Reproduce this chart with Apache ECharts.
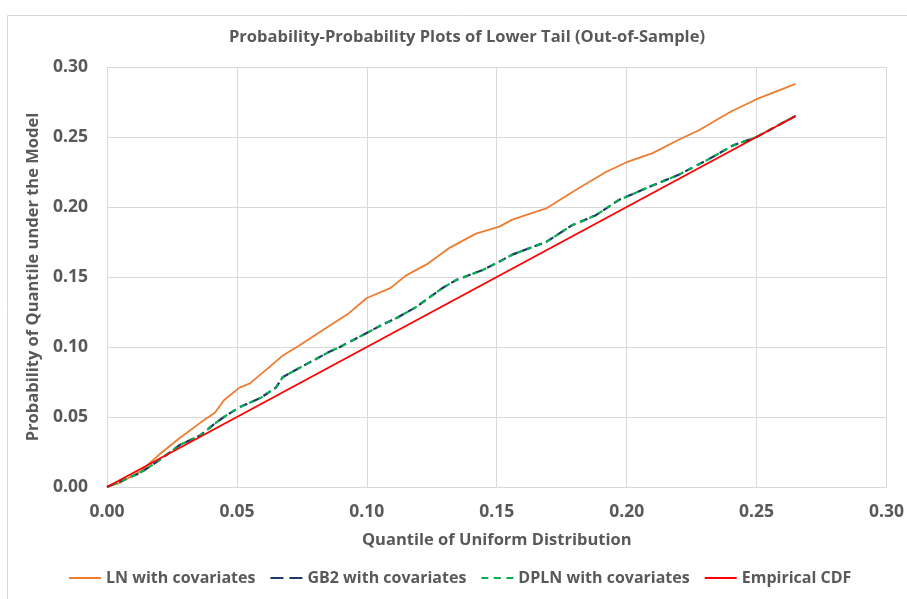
<!DOCTYPE html>
<html>
<head>
<meta charset="utf-8">
<script src="https://cdn.jsdelivr.net/npm/echarts@6/dist/echarts.min.js"></script>
<style>html,body{margin:0;padding:0;background:#fff}#c{width:907px;height:599px}</style>
</head>
<body>
<div id="c"></div>
<script>
const titleText = 'Probability-Probability Plots of Lower Tail (Out-of-Sample)';
const xAxisName = 'Quantile of Uniform Distribution';
const yAxisName = 'Probability of Quantile under the Model';
const seriesNames = ['LN with covariates', 'GB2 with covariates', 'DPLN with covariates', 'Empirical CDF'];

const lnX = [0, 0.005, 0.0127, 0.020, 0.028, 0.036, 0.0415, 0.045, 0.051, 0.055, 0.0627, 0.0677, 0.074, 0.0846, 0.093, 0.100, 0.109, 0.115, 0.123, 0.132, 0.142, 0.151, 0.156, 0.169, 0.182, 0.192, 0.200, 0.210, 0.220, 0.228, 0.240, 0.250, 0.265];
const lnY = [0, 0.003, 0.011, 0.023, 0.035, 0.046, 0.053, 0.062, 0.071, 0.074, 0.086, 0.094, 0.101, 0.114, 0.124, 0.135, 0.142, 0.151, 0.159, 0.171, 0.181, 0.186, 0.191, 0.199, 0.214, 0.225, 0.232, 0.2385, 0.248, 0.255, 0.268, 0.277, 0.288];

const gb2X = [0, 0.005, 0.0127, 0.020, 0.028, 0.036, 0.042, 0.045, 0.051, 0.059, 0.065, 0.0677, 0.075, 0.085, 0.0896, 0.0985, 0.106, 0.1115, 0.119, 0.129, 0.1346, 0.1446, 0.151, 0.156, 0.169, 0.179, 0.188, 0.197, 0.2077, 0.220, 0.231, 0.241, 0.250, 0.265];
const gb2Y = [0, 0.004, 0.010, 0.019, 0.030, 0.037, 0.046, 0.050, 0.057, 0.0635, 0.071, 0.0786, 0.086, 0.096, 0.100, 0.1086, 0.116, 0.1207, 0.1286, 0.142, 0.148, 0.155, 0.161, 0.166, 0.175, 0.187, 0.194, 0.205, 0.2136, 0.223, 0.2336, 0.244, 0.250, 0.265];

const dplnX = [0, 0.005, 0.0127, 0.020, 0.028, 0.036, 0.042, 0.045, 0.051, 0.059, 0.065, 0.0677, 0.075, 0.085, 0.0896, 0.0985, 0.106, 0.1115, 0.119, 0.129, 0.1346, 0.1446, 0.151, 0.156, 0.169, 0.179, 0.188, 0.197, 0.2077, 0.220, 0.231, 0.241, 0.250, 0.265];
const dplnY = [0, 0.004, 0.010, 0.019, 0.030, 0.037, 0.046, 0.050, 0.057, 0.0635, 0.071, 0.0786, 0.086, 0.096, 0.100, 0.1086, 0.116, 0.1207, 0.1286, 0.142, 0.148, 0.155, 0.161, 0.166, 0.175, 0.187, 0.194, 0.205, 0.2136, 0.223, 0.2336, 0.244, 0.250, 0.265];

const empX = [0, 0.265];
const empY = [0, 0.265];

const FONT = "'Open Sans', 'Noto Sans', sans-serif";
const TXT = '#595959';
const zip = (a, b) => a.map((v, i) => [v, b[i]]);

const legendIcons = [
  'path://M0,0H32V2H0Z',
  'path://M0,0H13V2H0Z M19,0H32V2H19Z',
  'path://M0,0H7V2H0Z M12.5,0H19.5V2H12.5Z M25,0H32V2H25Z',
  'path://M0,0H32V2H0Z'
];

const chart = echarts.init(document.getElementById('c'), null, {renderer: 'canvas'});
chart.setOption({
  animation: false,
  backgroundColor: '#fff',
  graphic: [{
    type: 'rect', left: 5, top: 13, shape: {width: 920, height: 620},
    style: {fill: 'none', stroke: '#d9d9d9', lineWidth: 1}, silent: true, z: -1
  }],
  title: {
    text: titleText, left: 224, top: 24,
    textStyle: {fontFamily: FONT, fontWeight: 'bold', fontSize: 16.5, color: TXT}
  },
  grid: {left: 107, right: 20, top: 67, bottom: 112, containLabel: false},
  xAxis: {
    type: 'value', min: 0, max: 0.30, interval: 0.05,
    name: xAxisName, nameLocation: 'middle', nameGap: 45,
    nameTextStyle: {fontFamily: FONT, fontWeight: 'bold', fontSize: 16.5, color: TXT},
    axisLine: {show: false}, axisTick: {show: false},
    axisLabel: {fontFamily: FONT, fontWeight: 'bold', fontSize: 17.5, color: TXT, margin: 16,
      formatter: v => v.toFixed(2)},
    splitLine: {show: true, lineStyle: {color: '#d9d9d9', width: 1}}
  },
  yAxis: {
    type: 'value', min: 0, max: 0.30, interval: 0.05,
    name: yAxisName, nameLocation: 'middle', nameGap: 56,
    nameTextStyle: {fontFamily: FONT, fontWeight: 'bold', fontSize: 16.5, color: TXT},
    axisLine: {show: false}, axisTick: {show: false},
    axisLabel: {fontFamily: FONT, fontWeight: 'bold', fontSize: 17.5, color: TXT, margin: 19,
      formatter: v => v.toFixed(2)},
    splitLine: {show: true, lineStyle: {color: '#d9d9d9', width: 1}}
  },
  legend: {
    show: true, bottom: 8, left: 64, itemWidth: 32, itemHeight: 2, itemGap: 15,
    textStyle: {fontFamily: FONT, fontWeight: 'bold', fontSize: 16, color: TXT},
    data: seriesNames.map((n, i) => ({name: n, icon: legendIcons[i]}))
  },
  series: [
    {name: seriesNames[0], type: 'line', data: zip(lnX, lnY), symbol: 'none',
      lineStyle: {color: '#ED7D31', width: 1.8}, itemStyle: {color: '#ED7D31'}, z: 2},
    {name: seriesNames[1], type: 'line', data: zip(gb2X, gb2Y), symbol: 'none',
      lineStyle: {color: '#203864', width: 2.2, type: [8, 5]}, itemStyle: {color: '#203864'}, z: 3},
    {name: seriesNames[2], type: 'line', data: zip(dplnX, dplnY), symbol: 'none',
      lineStyle: {color: '#00B050', width: 2.2, type: [5, 5], dashOffset: 4}, itemStyle: {color: '#00B050'}, z: 4},
    {name: seriesNames[3], type: 'line', data: zip(empX, empY), symbol: 'none',
      lineStyle: {color: '#FF0000', width: 1.8}, itemStyle: {color: '#FF0000'}, z: 5}
  ]
});
</script>
</body>
</html>
